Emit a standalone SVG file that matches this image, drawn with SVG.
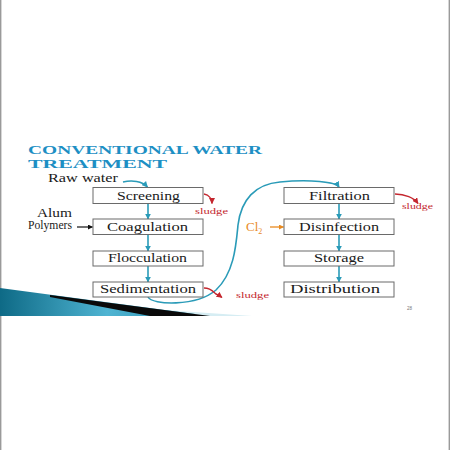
<svg xmlns="http://www.w3.org/2000/svg" width="450" height="450" viewBox="0 0 450 450">
<style>
.box{fill:#fff;stroke:#6a6a6a;stroke-width:1}
.lbl{font-family:"Liberation Serif",serif;font-size:12px;fill:#1a1a1a;text-anchor:middle}
.side{font-family:"Liberation Serif",serif;font-size:11.5px;fill:#1a1a1a}
.sludge{font-family:"Liberation Serif",serif;font-size:8.5px;fill:#c4262e}
.title{font-family:"Liberation Serif",serif;font-size:12.5px;font-weight:bold;fill:#1d8fc4}
.teal{fill:none;stroke:#2a9bb8;stroke-width:1.6}
.red{fill:none;stroke:#c4262e;stroke-width:1.4}
</style>
<defs>
<marker id="aTeal" viewBox="0 0 10 10" refX="9" refY="5" markerWidth="6" markerHeight="6" markerUnits="userSpaceOnUse" orient="auto"><path d="M0,0 L10,5 L0,10 z" fill="#2a9bb8"/></marker>
<marker id="aRed" viewBox="0 0 10 10" refX="9" refY="5" markerWidth="6" markerHeight="6" markerUnits="userSpaceOnUse" orient="auto"><path d="M0,0 L10,5 L0,10 z" fill="#c4262e"/></marker>
<marker id="aOrange" viewBox="0 0 10 10" refX="9" refY="5" markerWidth="5" markerHeight="5" markerUnits="userSpaceOnUse" orient="auto"><path d="M0,0 L10,5 L0,10 z" fill="#e88a1f"/></marker>
<marker id="aBlack" viewBox="0 0 10 10" refX="9" refY="5" markerWidth="5" markerHeight="5" markerUnits="userSpaceOnUse" orient="auto"><path d="M0,0 L10,5 L0,10 z" fill="#111"/></marker>
<linearGradient id="wedge" x1="0" y1="0" x2="1" y2="0">
<stop offset="0" stop-color="#0e6a86"/>
<stop offset="0.55" stop-color="#4fb4d2"/>
<stop offset="1" stop-color="#2c8fae"/>
</linearGradient>
</defs>
<rect x="0" y="0" width="450" height="450" fill="#fff"/>
<line x1="0.7" y1="0" x2="0.7" y2="450" stroke="#9a9a9a" stroke-width="1.4"/>
<line x1="449.3" y1="0" x2="449.3" y2="450" stroke="#9a9a9a" stroke-width="1.4"/>

<g id="decor">
<polygon points="150,309 252,316 150,316" fill="#d6edf3"/>
<polygon points="0,288 195,314 185,316 0,316" fill="url(#wedge)"/>
<polygon points="50,295 210,316 150,316 50,297" fill="#0a0a0a"/>
</g>

<g id="title">
<text class="title" x="28" y="154" textLength="234" lengthAdjust="spacingAndGlyphs">CONVENTIONAL WATER</text>
<text class="title" x="28" y="168" textLength="139" lengthAdjust="spacingAndGlyphs">TREATMENT</text>
</g>

<g id="connectors">
<path class="teal" d="M123,182 C132,180 142,181 147.5,187" marker-end="url(#aTeal)"/>
<line class="teal" x1="148" y1="203.5" x2="148" y2="219" marker-end="url(#aTeal)"/>
<line class="teal" x1="148" y1="234.5" x2="148" y2="251" marker-end="url(#aTeal)"/>
<line class="teal" x1="148" y1="266" x2="148" y2="282" marker-end="url(#aTeal)"/>
<path class="teal" d="M148,297 C152,305 196,307 216,290 C234,273 236,246 238,225 C241,200 255,184 280,182 C310,179 336,182 339,187" marker-end="url(#aTeal)"/>
<line class="teal" x1="339" y1="203.5" x2="339" y2="219" marker-end="url(#aTeal)"/>
<line class="teal" x1="339" y1="234.5" x2="339" y2="251" marker-end="url(#aTeal)"/>
<line class="teal" x1="339" y1="266" x2="339" y2="282" marker-end="url(#aTeal)"/>
<path class="red" d="M204,194 C209,195 212,199 212,203.5" marker-end="url(#aRed)"/>
<path class="red" d="M395,194 C405,194 414,198 418,203.5" marker-end="url(#aRed)"/>
<path class="red" d="M204,288 C212,288 214,293 216,294 C218,295 220,296 222,297.5" marker-end="url(#aRed)"/>
<line x1="77" y1="227" x2="92.5" y2="227" stroke="#111" stroke-width="1.2" marker-end="url(#aBlack)"/>
<line x1="270" y1="227" x2="283.5" y2="227" stroke="#e88a1f" stroke-width="1.3" marker-end="url(#aOrange)"/>
</g>

<g id="screening"><rect class="box" x="93" y="187.5" width="110" height="16"/><text class="lbl" x="148.5" y="199.5" textLength="63" lengthAdjust="spacingAndGlyphs">Screening</text></g>
<g id="coagulation"><rect class="box" x="93" y="219" width="110" height="15.5"/><text class="lbl" x="147.5" y="230.5" textLength="81" lengthAdjust="spacingAndGlyphs">Coagulation</text></g>
<g id="flocculation"><rect class="box" x="93" y="251" width="110" height="15"/><text class="lbl" x="147.5" y="262" textLength="79" lengthAdjust="spacingAndGlyphs">Flocculation</text></g>
<g id="sedimentation"><rect class="box" x="93" y="282" width="110" height="15"/><text class="lbl" x="148" y="293" textLength="96" lengthAdjust="spacingAndGlyphs">Sedimentation</text></g>
<g id="filtration"><rect class="box" x="284" y="187.5" width="110" height="16"/><text class="lbl" x="339.5" y="199.5" textLength="61" lengthAdjust="spacingAndGlyphs">Filtration</text></g>
<g id="disinfection"><rect class="box" x="284" y="219" width="110" height="15.5"/><text class="lbl" x="339" y="230.5" textLength="80" lengthAdjust="spacingAndGlyphs">Disinfection</text></g>
<g id="storage"><rect class="box" x="284" y="251" width="110" height="15"/><text class="lbl" x="339" y="261.5" textLength="50" lengthAdjust="spacingAndGlyphs">Storage</text></g>
<g id="distribution"><rect class="box" x="284" y="282" width="110" height="15"/><text class="lbl" x="335" y="293" textLength="90" lengthAdjust="spacingAndGlyphs">Distribution</text></g>

<g id="inputs">
<text class="side" x="48" y="181.5" font-size="11px" textLength="70" lengthAdjust="spacingAndGlyphs">Raw water</text>
<text class="side" x="37" y="217" textLength="35" lengthAdjust="spacingAndGlyphs">Alum</text>
<text class="side" x="28" y="228.5" textLength="44" lengthAdjust="spacingAndGlyphs">Polymers</text>
<text x="246" y="231" font-family="Liberation Serif,serif" font-size="13px" fill="#e88a1f">Cl<tspan font-size="8px" dy="2.5">2</tspan></text>
</g>

<g id="sludge">
<text class="sludge" x="195" y="214" textLength="33" lengthAdjust="spacingAndGlyphs">sludge</text>
<text class="sludge" x="402" y="209" textLength="31" lengthAdjust="spacingAndGlyphs">sludge</text>
<text class="sludge" x="236" y="297.5" textLength="33" lengthAdjust="spacingAndGlyphs">sludge</text>
</g>

<text x="407" y="310" font-family="Liberation Sans,sans-serif" font-size="4.5px" fill="#777">28</text>
</svg>
